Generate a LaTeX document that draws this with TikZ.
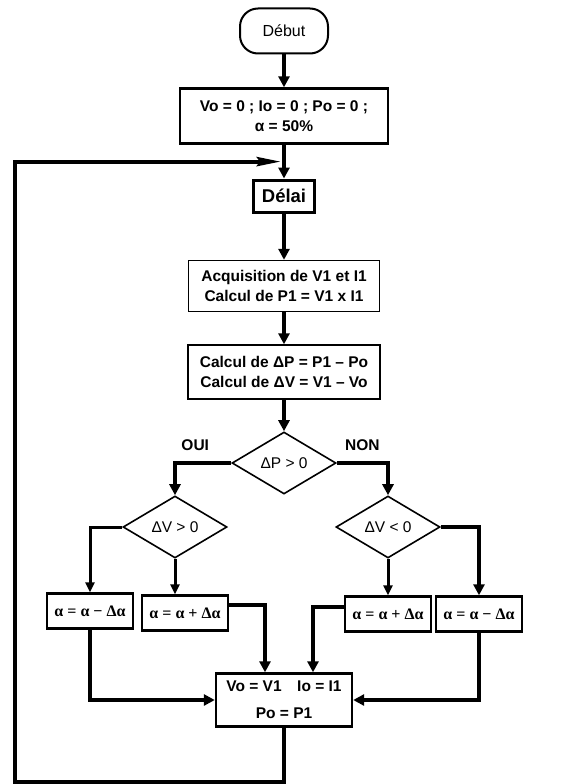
\documentclass[tikz,border=0pt]{standalone}
\usepackage{fontspec}
\setmainfont{Liberation Sans}
\newfontfamily\serifgrec{Liberation Serif}
\usepackage{tikz}
\usetikzlibrary{positioning, shapes.geometric, arrows.meta, calc}

\begin{document}
\begin{tikzpicture}[x=1pt, y=-1pt, on grid,
        box/.style={draw, line width=2pt, inner sep=2pt, align=center, font=\fontsize{15.5}{20}\selectfont\bfseries},
        start/.style={draw, line width=2pt, rounded corners=18pt, minimum width=88pt, minimum height=45pt, font=\fontsize{16}{20}\selectfont},
        cond/.style={draw, diamond, line width=1.6pt, inner sep=0pt, minimum width=104pt, minimum height=62pt, font=\fontsize{15.5}{20}\selectfont},
        upd/.style={draw, line width=2.4pt, minimum width=86pt, minimum height=35pt, inner sep=1pt, font=\fontsize{16}{18}\selectfont\serifgrec\bfseries},
        lbl/.style={font=\fontsize{15.5}{20}\selectfont\bfseries},
        flow/.style={line width=4.5pt, -{Triangle[length=11pt, width=11pt]}},
        thinflow/.style={line width=3pt, -{Triangle[length=10pt, width=9pt]}},
        back/.style={line width=4pt, -{Stealth[length=24pt, width=9pt, inset=3pt]}}
    ]
        \useasboundingbox (0,0) rectangle (577,784);

        \node[start] (debut) at (284,31) {Début};
        \node[box, minimum width=208pt, minimum height=55pt, line width=2.4pt] (init) [below=85pt of debut] {Vo = 0 ; Io = 0 ; Po = 0 ;\\ α = 50\%};
        \node[box, line width=3pt, minimum width=61pt, minimum height=32pt, font=\fontsize{18.5}{22}\selectfont\bfseries] (delai) [below=80pt of init] {Délai};
        \node[box, minimum width=191pt, minimum height=51pt, line width=1.4pt] (acq) [below=90pt of delai] {Acquisition de V1 et I1\\ Calcul de P1 = V1 x I1};
        \node[box, minimum width=192pt, minimum height=54pt, line width=1.4pt] (calc) [below=86pt of acq] {Calcul de ΔP = P1 – Po\\ Calcul de ΔV = V1 – Vo};
        \node[cond] (dp) [below=91pt of calc] {ΔP > 0};

        \node[cond] (dv1) [below left=64pt and 109pt of dp] {ΔV > 0};
        \node[cond] (dv2) [below right=64pt and 104pt of dp] {ΔV < 0};

        \node[upd] (a1) [below left=84pt and 85pt of dv1] {α = α − Δα};
        \node[upd] (a2) [below right=86pt and 10pt of dv1] {α = α + Δα};
        \node[upd] (a3) [below=87pt of dv2] {α = α + Δα};
        \node[upd] (a4) [below right=87pt and 91pt of dv2] {α = α − Δα};

        \node[box, minimum width=136pt, minimum height=53pt, line width=2.4pt, font=\fontsize{15.5}{27}\selectfont\bfseries] (maj) [below=237pt of dp] {Vo = V1\quad Io = I1\\ Po = P1};

        \coordinate (bas) at (15,782);
        \coordinate (retour) at ($(init.south)!0.5!(delai.north)$);

        \draw[flow] (debut) -- (init);
        \draw[flow] (init) -- (delai);
        \draw[flow] (delai) -- (acq);
        \draw[flow] (acq) -- (calc);
        \draw[flow] (calc) -- (dp);

        \draw[flow] (dp.west) -| node[lbl, pos=0.32, above=7pt] {OUI} (dv1.north);
        \draw[flow] (dp.east) -| node[lbl, pos=0.25, above=7pt] {NON} (dv2.north);

        \draw[thinflow] (dv1.west) -| (a1.north);
        \draw[thinflow] (dv1.south) -- (dv1.south |- a2.north);
        \draw[thinflow] (dv2.south) -- (a3.north);
        \draw[flow] (dv2.east) -| (a4.north);

        \draw[flow] (a1.south) |- (maj.west);
        \draw[flow] ([yshift=8pt]a2.east) -| ([xshift=-19pt]maj.north);
        \draw[flow] ([yshift=7pt]a3.west) -| ([xshift=29pt]maj.north);
        \draw[flow] (a4.south) |- (maj.east);

        \draw[back] (maj.south) |- (bas) |- ([xshift=-3pt]retour);
\end{tikzpicture}
\end{document}
